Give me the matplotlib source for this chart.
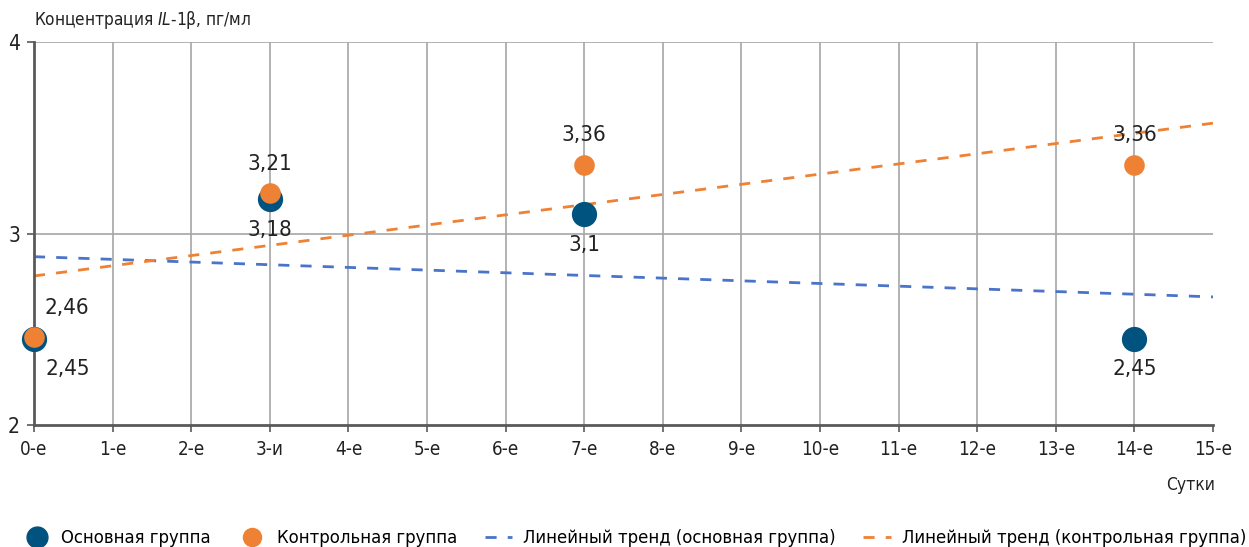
import numpy as np
import matplotlib
matplotlib.use('Agg')
import matplotlib.pyplot as plt
from matplotlib.lines import Line2D

plt.rcParams['font.family'] = ['DejaVu Sans']
plt.rcParams['font.stretch'] = 'condensed'

# data
days = [0, 3, 7, 14]
main_vals = [2.45, 3.18, 3.1, 2.45]
ctrl_vals = [2.46, 3.21, 3.36, 3.36]
main_labels = ['2,45', '3,18', '3,1', '2,45']
ctrl_labels = ['2,46', '3,21', '3,36', '3,36']
xtick_labels = ['0-е', '1-е', '2-е', '3-и', '4-е', '5-е', '6-е', '7-е', '8-е',
                '9-е', '10-е', '11-е', '12-е', '13-е', '14-е', '15-е']
series_names = ['Основная группа', 'Контрольная группа',
                'Линейный тренд (основная группа)',
                'Линейный тренд (контрольная группа)']

c_main = '#00527f'
c_ctrl = '#ee8133'
c_tr_main = '#4a74c9'
c_grid = '#a6a6a6'
c_axis = '#595959'
c_text = '#222222'

fig = plt.figure(figsize=(12.49, 5.47), dpi=100)
ax = fig.add_axes([0.0272, 0.223, 0.944, 0.7002])

ax.set_xlim(0, 15)
ax.set_ylim(2, 4)

# grid
for x in range(1, 15):
    ax.axvline(x, color=c_grid, lw=1.2, zorder=0)
for y in [3, 4]:
    ax.axhline(y, color=c_grid, lw=1.2, zorder=0)

# trends
xs = np.array([0, 15])
k, b = np.polyfit(days, main_vals, 1)
ax.plot(xs, k * xs + b, color=c_tr_main, lw=2, ls=(0, (4, 4)), zorder=2)
k2, b2 = np.polyfit(days, ctrl_vals, 1)
ax.plot(xs, k2 * xs + b2, color=c_ctrl, lw=2, ls=(0, (4, 4)), zorder=2)

ax.scatter(days, main_vals, s=330, color=c_main, zorder=3, clip_on=False,
           linewidths=0)
ax.scatter(days, ctrl_vals, s=220, color=c_ctrl, zorder=4, clip_on=False,
           linewidths=0)

for i, (x, y) in enumerate(zip(days, main_vals)):
    dx = 24 if x == 0 else 0
    ax.annotate(main_labels[i], (x, y), xytext=(dx, -22), textcoords='offset points',
                ha='center', va='center', fontsize=16, color=c_text)
for i, (x, y) in enumerate(zip(days, ctrl_vals)):
    dx = 24 if x == 0 else 0
    ax.annotate(ctrl_labels[i], (x, y), xytext=(dx, 21), textcoords='offset points',
                ha='center', va='center', fontsize=16, color=c_text)

for s in ['top', 'right']:
    ax.spines[s].set_visible(False)
for s in ['left', 'bottom']:
    ax.spines[s].set_color(c_axis)
    ax.spines[s].set_linewidth(2)

ax.set_xticks(range(16))
ax.set_xticklabels(xtick_labels, fontsize=13.5, color=c_text)
ax.set_yticks([2, 3, 4])
ax.set_yticklabels(['2', '3', '4'], fontsize=15, color=c_text)
ax.tick_params(axis='x', length=5, width=1.2, color=c_axis, pad=6)
ax.tick_params(axis='y', length=5, width=1.2, color=c_axis, pad=5)

fig.text(0.0272, 0.963, 'Концентрация $\\mathit{IL}$-1β, пг/мл', fontsize=12.3,
         ha='left', va='center', color=c_text)
fig.text(0.953, 0.113, 'Сутки', fontsize=12.5, ha='center', va='center', color=c_text)

handles = [
    Line2D([], [], marker='o', ls='', color=c_main, markersize=15),
    Line2D([], [], marker='o', ls='', color=c_ctrl, markersize=13),
    Line2D([], [], color=c_tr_main, lw=2, ls=(0, (4, 4))),
    Line2D([], [], color=c_ctrl, lw=2, ls=(0, (4, 4))),
]
fig.legend(handles, series_names, loc='center', bbox_to_anchor=(0.508, 0.0165),
           ncol=4, frameon=False, fontsize=13.2, handlelength=1.5,
           handletextpad=0.6, columnspacing=1.5, borderaxespad=0)

fig.savefig('out.png', dpi=100)
